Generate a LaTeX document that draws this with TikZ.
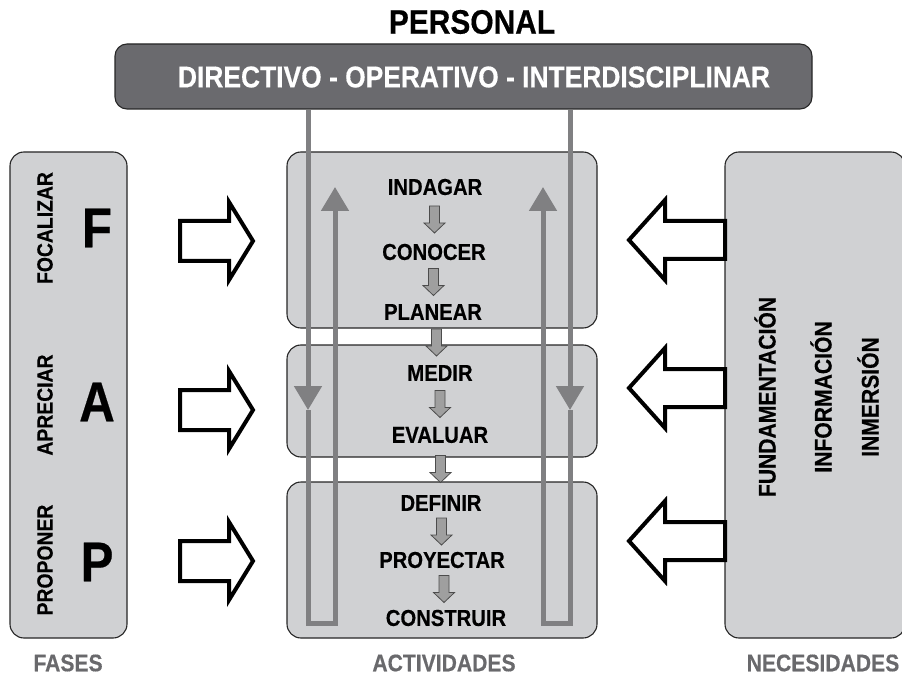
\documentclass[tikz,border=0pt]{standalone}
\usepackage{fontspec}
\newfontfamily\cond{Liberation Sans}[FakeStretch=0.88,BoldFeatures={FakeBold=0.4}]
\usetikzlibrary{arrows.meta,calc}
\definecolor{gris}{RGB}{208,209,211}
\definecolor{barra}{RGB}{106,106,110}
\definecolor{linea}{RGB}{128,128,130}
\definecolor{etiq}{RGB}{105,105,108}
\tikzset{
  panel/.style={draw=black!85,fill=gris,rounded corners=14pt,line width=1.1pt,inner sep=0pt},
  verbo/.style={inner sep=0pt,font=\cond\bfseries\fontsize{23}{23}\selectfont},
  fase/.style={inner sep=0pt,rotate=90,font=\cond\bfseries\fontsize{22}{22}\selectfont},
  letra/.style={inner sep=0pt,font=\cond\bfseries\fontsize{56}{56}\selectfont},
  pie/.style={inner sep=0pt,text=etiq,font=\cond\bfseries\fontsize{24}{24}\selectfont},
  hueca/.style={draw=black,fill=white,line width=4pt,miter limit=10},
  ciclo/.style={draw=linea,line width=5pt,-{Triangle[width=27pt,length=24pt]}},
  flechita/.pic={\draw[fill=gray!75,draw=black!70,line width=.8pt] (-5,-13.5)--(5,-13.5)--(5,3.5)--(10.5,3.5)--(0,13.5)--(-10.5,3.5)--(-5,3.5)--cycle;}
}
\begin{document}
\begin{tikzpicture}[x=1pt,y=-1pt]
\useasboundingbox (0,0) rectangle (902,676);
\node[inner sep=0pt,font=\cond\bfseries\fontsize{34}{34}\selectfont] (personal) at (472,22) {PERSONAL};
\node[panel,fill=barra,rounded corners=12pt,minimum width=697pt,minimum height=65pt] (barra) at (463.5,76.5) {};
\node[inner sep=0pt,text=white,font=\cond\bfseries\fontsize{30}{30}\selectfont] at (474,77) {DIRECTIVO - OPERATIVO - INTERDISCIPLINAR};
\node[panel,minimum width=117pt,minimum height=486pt] (fases) at (68.5,395) {};
\node[panel,minimum width=310pt,minimum height=176pt] (b1) at (442,240) {};
\node[panel,minimum width=310pt,minimum height=112pt] (b2) at (442,401) {};
\node[panel,minimum width=310pt,minimum height=156pt] (b3) at (442,560) {};
\node[panel,minimum width=180pt,minimum height=486pt] (necesidades) at (815,395) {};
\node[fase] at (45,228) {FOCALIZAR};
\node[fase] at (45,405) {APRECIAR};
\node[fase] at (45,560) {PROPONER};
\node[letra] at (97,228) {F};
\node[letra] at (97,402) {A};
\node[letra] at (97,562) {P};
\node[fase,font=\cond\bfseries\fontsize{24}{24}\selectfont] at (765,397) {FUNDAMENTACIÓN};
\node[fase,font=\cond\bfseries\fontsize{24}{24}\selectfont] at (821,397) {INFORMACIÓN};
\node[fase,font=\cond\bfseries\fontsize{24}{24}\selectfont] at (868,397) {INMERSIÓN};
\foreach \c in {241,410,561}
  \draw[hueca] (180,\c-20)--(229,\c-20)--(229,\c-39)--(253,\c)--(229,\c+39)--(229,\c+20)--(180,\c+20)--cycle;
\foreach \c in {240,388,541}
  \draw[hueca] (725,\c-19)--(665,\c-19)--(665,\c-40)--(629,\c)--(665,\c+40)--(665,\c+19)--(725,\c+19)--cycle;
\node[verbo] (indagar) at (435,187) {INDAGAR};
\node[verbo] (conocer) at (434,252) {CONOCER};
\node[verbo] (planear) at (433,312) {PLANEAR};
\node[verbo] (medir) at (440,373) {MEDIR};
\node[verbo] (evaluar) at (440,435) {EVALUAR};
\node[verbo] (definir) at (441,503) {DEFINIR};
\node[verbo] (proyectar) at (442,560) {PROYECTAR};
\node[verbo] (construir) at (446,618) {CONSTRUIR};
\foreach \a/\b in {indagar/conocer,conocer/planear,planear/medir,medir/evaluar,evaluar/definir,definir/proyectar,proyectar/construir}
  \pic at ($(\a)!.5!(\b)$ -| 435,0) {flechita};
\coordinate (ozq) at (308,623);
\coordinate (izq) at (335,623);
\coordinate (oder) at (570,623);
\coordinate (ider) at (543,623);
\coordinate (bajaI) at (308,410);
\coordinate (bajaD) at (570,410);
\coordinate (subeI) at (335,187);
\coordinate (subeD) at (543,187);
\draw[ciclo] (barra.south -| ozq) -- (bajaI);
\draw[ciclo] (bajaI) -- (ozq) -- (izq) -- (subeI);
\draw[ciclo] (barra.south -| oder) -- (bajaD);
\draw[ciclo] (bajaD) -- (oder) -- (ider) -- (subeD);
\node[pie] at (68,663) {FASES};
\node[pie] at (444,663) {ACTIVIDADES};
\node[pie] at (823,663) {NECESIDADES};
\end{tikzpicture}
\end{document}
